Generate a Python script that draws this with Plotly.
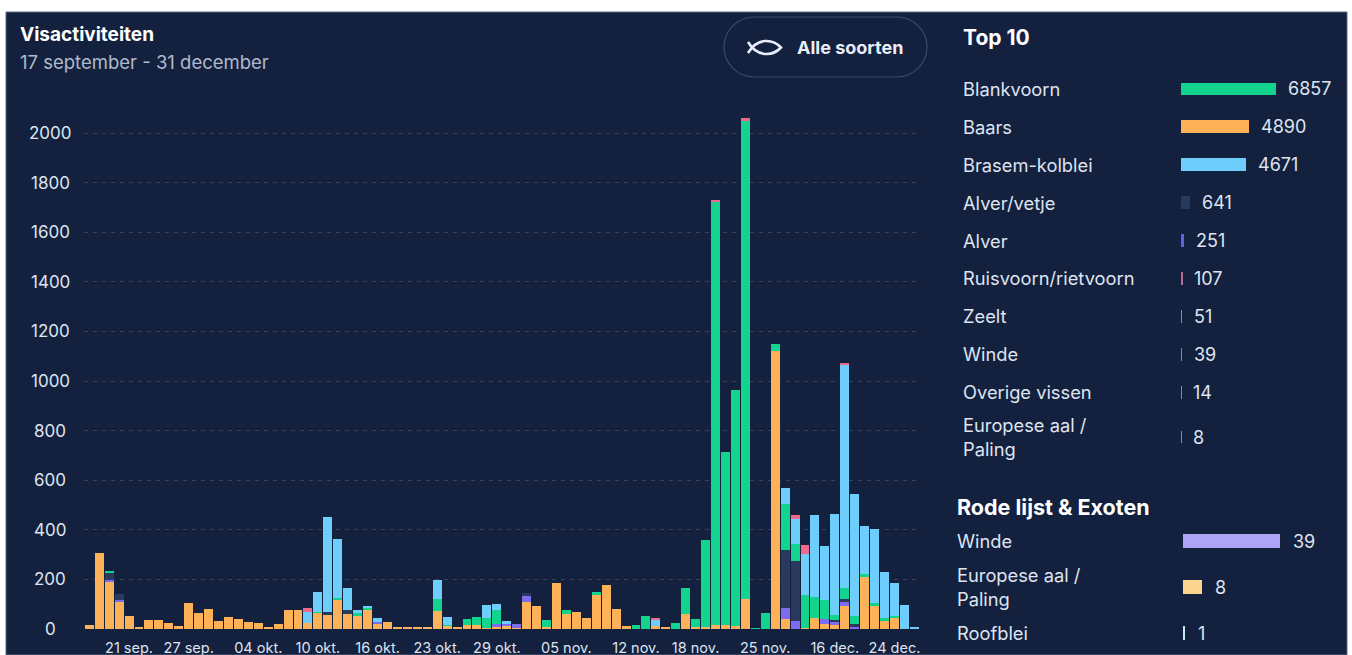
import plotly.graph_objects as go

W, H = 1352, 655
FONT = "Inter"

# ---------- data ----------
dates = ["17 sep.","18 sep.","19 sep.","20 sep.","21 sep.","22 sep.","23 sep.","24 sep.","25 sep.","26 sep.",
         "27 sep.","28 sep.","29 sep.","30 sep.","01 okt.","02 okt.","03 okt.","04 okt.","05 okt.","06 okt.",
         "07 okt.","08 okt.","09 okt.","10 okt.","11 okt.","12 okt.","13 okt.","14 okt.","15 okt.","16 okt.",
         "17 okt.","18 okt.","19 okt.","20 okt.","21 okt.","23 okt.","24 okt.","25 okt.","26 okt.","27 okt.",
         "28 okt.","29 okt.","30 okt.","31 okt.","01 nov.","02 nov.","03 nov.","04 nov.","05 nov.","06 nov.",
         "07 nov.","08 nov.","09 nov.","10 nov.","11 nov.","12 nov.","13 nov.","14 nov.","15 nov.","16 nov.",
         "17 nov.","18 nov.","19 nov.","20 nov.","21 nov.","22 nov.","23 nov.","24 nov.","25 nov.","26 nov.",
         "27 nov.","28 nov.","29 nov.","13 dec.","15 dec.","16 dec.","17 dec.","18 dec.","19 dec.","20 dec.",
         "23 dec.","24 dec.","25 dec.","26 dec."]
tick_dates = ["21 sep.","27 sep.","04 okt.","10 okt.","16 okt.","23 okt.","29 okt.","05 nov.","12 nov.",
              "18 nov.","25 nov.","16 dec.","24 dec."]
y_ticks = [0,200,400,600,800,1000,1200,1400,1600,1800,2000]

baars = [18,305,190,110,52,8,36,36,26,11,106,64,79,32,48,39,27,26,5,19,
         78,77,26,66,56,115,62,54,75,21,30,8,8,8,5,72,12,5,16,15,
         3,8,15,4,109,93,8,184,60,67,46,136,177,82,12,1,0,12,8,0,
         60,10,10,15,15,12,120,0,0,1120,39,0,5,46,20,16,93,0,211,93,
         32,43,0,0]
alver = [0,0,8,8,0,0,0,0,0,0,0,0,0,0,0,0,0,0,0,0,
         0,0,0,0,0,0,0,0,0,7,0,0,0,0,0,0,0,0,0,0,
         0,12,7,17,27,0,0,0,0,0,0,0,0,0,0,0,0,0,0,0,
         0,0,0,0,0,0,0,0,0,0,47,33,0,0,19,13,17,9,0,0,
         0,0,0,0]
alver_vetje = [0,0,30,25,0,0,0,0,0,0,0,0,0,0,0,0,0,0,0,0,
               0,0,0,0,12,0,15,0,0,0,0,0,0,0,0,0,0,0,0,0,
               0,0,0,0,8,0,0,0,0,0,0,0,0,0,0,0,0,0,0,0,
               0,0,0,0,0,0,0,0,0,0,232,240,0,0,0,7,11,11,0,0,
               0,0,0,0]
blankvoorn = [0,0,3,0,0,0,0,0,0,0,0,0,0,0,0,0,0,0,0,0,
              0,0,0,3,0,9,0,12,11,0,0,0,0,0,0,47,3,0,23,33,
              40,55,0,0,0,0,28,0,15,0,0,15,0,0,0,15,51,0,0,26,
              106,31,350,1705,700,953,1930,2,65,30,185,69,134,85,78,20,43,32,11,13,
              11,9,0,0]
brasem = [0,0,0,0,0,0,0,0,0,0,0,0,0,0,0,0,0,0,0,0,
          0,0,44,80,384,237,87,9,2,15,0,0,0,0,0,80,33,0,0,0,
          52,27,10,0,0,0,0,0,0,0,0,0,0,0,0,0,0,24,0,0,
          0,0,0,0,0,0,0,0,0,0,67,103,165,330,218,407,900,493,193,296,
          188,134,97,9]
ruisvoorn = [0,0,0,0,0,0,0,0,0,0,0,0,0,0,0,0,0,0,0,0,
             0,0,13,0,0,0,0,0,0,0,0,0,0,0,0,0,0,0,0,0,
             0,0,0,0,0,0,0,0,0,0,0,0,0,0,0,0,0,4,0,0,
             0,0,0,10,0,0,10,0,0,0,0,13,34,0,0,0,4,0,0,0,
             0,0,0,0]

top_names = ["Blankvoorn","Baars","Brasem-kolblei","Alver/vetje","Alver","Ruisvoorn/rietvoorn",
             "Zeelt","Winde","Overige vissen","Europese aal /<br>Paling"]
top_values = [6857,4890,4671,641,251,107,51,39,14,8]
red_names = ["Winde","Europese aal /<br>Paling","Roofblei"]
red_values = [39,8,1]

# ---------- style ----------
C_BG = "#13213f"
C_BAARS, C_ALVER, C_VETJE = "#fdb25a", "#7d6cf0", "#2a3a5e"
C_BLANK, C_BRASEM, C_RUIS = "#13d48f", "#6dcdfb", "#ee6a8c"
top_colors = [C_BLANK,C_BAARS,C_BRASEM,"#263a5c","#5b62e6","#b96a94","#7f8ea8","#7f8ea8","#7f8ea8","#7f8ea8"]
red_colors = ["#aea3f6","#fbd58f","#bfeaf0"]
C_TXT, C_SUB = "#dfe4f0", "#b0bacd"


def px(x): return x / W
def py(y): return 1 - y / H

fig = go.Figure()

# main stacked bars
for name, vals, col in [("Baars",baars,C_BAARS),("Alver",alver,C_ALVER),("Alver/vetje",alver_vetje,C_VETJE),
                        ("Blankvoorn",blankvoorn,C_BLANK),("Brasem-kolblei",brasem,C_BRASEM),
                        ("Ruisvoorn/rietvoorn",ruisvoorn,C_RUIS)]:
    fig.add_trace(go.Bar(x=dates, y=vals, name=name, marker=dict(color=col, line=dict(width=0)),
                         xaxis="x", yaxis="y"))

# Top 10
n = len(top_names)
top_off = [-0.17] * (n - 1) + [0.014]
fig.add_trace(go.Bar(y=list(range(n)), x=top_values, orientation="h", width=[0.34]*n, offset=top_off,
                     marker=dict(color=top_colors, line=dict(width=0)), xaxis="x2", yaxis="y2"))
# Rode lijst
fig.add_trace(go.Bar(y=list(range(len(red_names))), x=red_values, orientation="h", width=0.29,
                     marker=dict(color=red_colors, line=dict(width=0)), xaxis="x3", yaxis="y3"))

ann = []
def text(x, y, s, size, color=C_TXT, bold=False, anchor="left"):
    ann.append(dict(x=px(x), y=py(y), xref="paper", yref="paper", text=f"<b>{s}</b>" if bold else s,
                    showarrow=False, xanchor=anchor, yanchor="middle", align="left",
                    font=dict(family=FONT, size=size, color=color)))

text(18, 35, "Visactiviteiten", 19, "#ffffff", True)
text(18, 62, "17 september - 31 december", 18.5, C_SUB)
text(795, 48, "Alle soorten", 18, "#e8edf7", True)
text(961, 38, "Top 10", 21, "#ffffff", True)
text(955, 507, "Rode lijst &amp; Exoten", 21.5, "#ffffff", True)

for v in y_ticks:
    ann.append(dict(x=px(50), y=v, xref="paper", yref="y", text=str(v), showarrow=False, xanchor="center",
                    font=dict(family=FONT, size=17, color=C_TXT)))

for i, (nm, v) in enumerate(zip(top_names, top_values)):
    sh = -7 if i == n - 1 else 0
    ann.append(dict(x=px(961), y=i, xref="paper", yref="y2", text=nm, showarrow=False, xanchor="left",
                    align="left", yshift=sh, font=dict(family=FONT, size=18.3, color=C_TXT)))
    ann.append(dict(x=v, y=i, xref="x2", yref="y2", text=str(v), showarrow=False, xanchor="left",
                    xshift=10, yshift=sh, font=dict(family=FONT, size=18, color=C_TXT)))
for i, (nm, v) in enumerate(zip(red_names, red_values)):
    ann.append(dict(x=px(955), y=i, xref="paper", yref="y3", text=nm, showarrow=False, xanchor="left",
                    align="left", font=dict(family=FONT, size=18.3, color=C_TXT)))
    ann.append(dict(x=v, y=i, xref="x3", yref="y3", text=str(v), showarrow=False, xanchor="left",
                    xshift=11, font=dict(family=FONT, size=18, color=C_TXT)))


def pth(points):
    out = []
    for cmd, *xy in points:
        coords = " ".join(f"{px(xy[k]):.5f},{py(xy[k+1]):.5f}" for k in range(0, len(xy), 2))
        out.append(f"{cmd}{coords}")
    return " ".join(out)

# pill outline
L, R, T, B, r = 724, 927, 17, 77, 30
k = r * 0.45
pill = pth([("M",L+r,T),("L",R-r,T),("C",R-k,T,R,T+k,R,T+r),("C",R,B-k,R-k,B,R-r,B),("L",L+r,B),
            ("C",L+k,B,L,B-k,L,B-r),("C",L,T+k,L+k,T,L+r,T)]) + " Z"
# fish icon
fish = pth([("M",748,42),("C",757,57,772,57,781,47.5),("C",772,38,757,38,748,53)])

shapes = [
    dict(type="rect", xref="paper", yref="paper", x0=px(6), x1=px(1347), y0=0, y1=py(12),
         fillcolor=C_BG, line=dict(color="#5a6a85", width=1), layer="below"),
    dict(type="path", xref="paper", yref="paper", path=pill, line=dict(color="#3b4a68", width=1.2),
         fillcolor="rgba(0,0,0,0)", layer="below"),
    dict(type="path", xref="paper", yref="paper", path=fish, line=dict(color="#e8edf7", width=2.6),
         fillcolor="rgba(0,0,0,0)"),
]

hidden = dict(showgrid=False, zeroline=False, showticklabels=False, ticks="", showline=False, fixedrange=True)

fig.update_layout(
    width=W, height=H, margin=dict(l=0, r=0, t=0, b=0), paper_bgcolor="#ffffff", plot_bgcolor="rgba(0,0,0,0)",
    barmode="stack", bargap=0.1, showlegend=False, hovermode=False, annotations=ann, shapes=shapes,
    xaxis=dict(domain=[px(84.3), px(919.3)], type="category", categoryorder="array", categoryarray=dates,
               tickmode="array", tickvals=tick_dates, ticktext=tick_dates, tickangle=0, showgrid=False,
               zeroline=False, showline=False, ticks="", anchor="y", ticklabelstandoff=8,
               tickfont=dict(family=FONT, size=14.5, color=C_TXT), fixedrange=True),
    yaxis=dict(domain=[py(629), py(108.2)], range=[0, 2100], tickmode="array", tickvals=y_ticks,
               showticklabels=False, showgrid=True, gridcolor="rgba(255,255,255,0.15)", griddash="4px,5px",
               gridwidth=1, zeroline=False, showline=False, ticks="", anchor="x", fixedrange=True),
    xaxis2=dict(domain=[px(1181), px(1340)], range=[0, 159 / (95 / 6857)], anchor="y2", **hidden),
    yaxis2=dict(domain=[py(449), py(70)], range=[9.5, -0.5], anchor="x2", **hidden),
    xaxis3=dict(domain=[px(1182.5), px(1340)], range=[0, 157.5 / (97 / 39)], anchor="y3", **hidden),
    yaxis3=dict(domain=[0, py(518)], range=[(655 - 518) / 46 - 0.5, -0.5], anchor="x3", **hidden),
)

fig.write_html("out.html", config=dict(displayModeBar=False),
               post_script=("document.documentElement.style.overflow='hidden';"
                            "document.body.style.margin='0';document.body.style.overflow='hidden';"
                            "var g=document.getElementById('{plot_id}');g.style.overflow='hidden';"
                            "g.style.height='655px';g.style.width='1352px';"))
